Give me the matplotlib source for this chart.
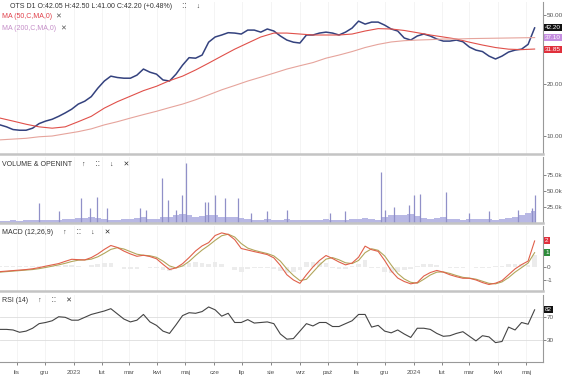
import numpy as np
import pandas as pd
import matplotlib
matplotlib.use('Agg')
import matplotlib.pyplot as plt
import matplotlib.dates as mdates
import matplotlib.transforms as mtransforms

plt.rcParams['font.family'] = ['Liberation Sans', 'DejaVu Sans']

# weekly samples, 2022-10-14 .. 2024-05-10
dates = pd.date_range('2022-10-14', periods=83, freq='7D')

close = [11.6, 11.3, 10.9, 10.8, 10.8, 11.1, 11.8, 12.2, 12.5, 13.0,
         13.6, 14.3, 15.3, 15.9, 16.9, 18.9, 20.8, 22.2, 21.8, 21.6,
         21.6, 22.5, 24.4, 23.4, 22.8, 21.1, 20.8, 22.8, 25.7, 28.4,
         28.2, 29.4, 34.9, 37.4, 38.4, 39.6, 39.4, 38.9, 41.0, 41.0,
         39.9, 41.6, 40.5, 37.9, 35.9, 34.9, 34.5, 38.4, 38.4, 39.4,
         39.9, 39.4, 38.4, 39.9, 42.1, 46.2, 44.4, 45.6, 45.6, 43.8,
         41.6, 40.5, 36.9, 35.9, 37.9, 38.9, 37.9, 36.4, 35.4, 35.4,
         35.9, 35.1, 32.7, 31.4, 30.8, 29.0, 27.9, 29.0, 30.6, 31.4,
         31.8, 33.9, 42.2]

# moving averages read every second week
ma50 = [12.7, 12.2, 11.7, 11.3, 11.1, 11.3, 12.1, 13.0, 14.5, 15.8,
        17.0, 18.3, 19.4, 20.9, 22.2, 24.1, 26.4, 29.0, 31.8, 34.5,
        37.4, 39.4, 39.4, 38.9, 38.4, 38.4, 38.4, 38.9, 40.5, 41.8,
        41.6, 40.8, 39.6, 38.4, 37.4, 36.4, 34.9, 33.6, 32.5, 31.8,
        31.6, 31.85]
ma200 = [9.5, 9.6, 9.7, 9.9, 10.0, 10.3, 10.6, 11.0, 11.6, 12.1,
         12.7, 13.3, 13.9, 14.6, 15.3, 16.2, 17.3, 18.5, 19.6, 20.8,
         21.9, 23.1, 24.4, 25.5, 26.6, 28.2, 29.4, 30.8, 32.5, 33.9,
         35.0, 35.6, 35.9, 36.1, 36.4, 36.4, 36.6, 36.7, 36.8, 36.9,
         37.0, 37.1]

vol_base = [3, 3, 4, 3, 4, 5, 5, 4, 5, 4, 6, 7, 8, 8, 9, 8, 6, 5, 5, 6,
            7, 8, 9, 6, 6, 9, 10, 12, 14, 12, 10, 11, 13, 12, 10, 9, 10, 8,
            6, 5, 5, 6, 5, 5, 6, 5, 4, 4, 5, 5, 6, 5, 4, 5, 6, 7, 8, 6, 5,
            10, 12, 13, 12, 14, 11, 8, 7, 8, 9, 7, 6, 5, 6, 6, 7, 6, 5, 6,
            8, 10, 12, 15, 18]
spike_dates = ['2022-11-25', '2022-12-16', '2023-01-09', '2023-01-19', '2023-01-26',
               '2023-02-06', '2023-03-13', '2023-03-20', '2023-04-06', '2023-04-12',
               '2023-04-21', '2023-04-27', '2023-05-02', '2023-05-22', '2023-05-25',
               '2023-06-02', '2023-06-13', '2023-06-26', '2023-07-10', '2023-07-28',
               '2023-08-18', '2023-10-03', '2023-10-19', '2023-11-27', '2023-12-01',
               '2023-12-11', '2023-12-27', '2024-01-02', '2024-01-08', '2024-02-05',
               '2024-03-01', '2024-03-22', '2024-04-22', '2024-05-07', '2024-05-10']
spike_vals = [31, 18, 39, 23, 41, 23, 23, 20, 70, 36, 20, 44, 94, 33, 33, 44, 39, 39,
              15, 18, 20, 15, 18, 80, 20, 25, 28, 44, 46, 49, 16, 18, 20, 23, 44]

macd = [-0.36, -0.32, -0.28, -0.24, -0.2, -0.14, -0.05, 0.06, 0.16, 0.26,
        0.43, 0.59, 0.56, 0.54, 0.72, 1.0, 1.35, 1.65, 1.5, 1.22,
        1.0, 0.82, 0.9, 0.8, 0.63, 0.2, -0.2, -0.07, 0.25, 0.72,
        1.23, 1.62, 1.87, 2.42, 2.62, 2.5, 2.1, 1.42, 1.3, 1.18,
        1.07, 0.95, 0.7, 0.12, -0.6, -1.0, -1.26, -0.6, 0.0, 0.5,
        0.88, 0.65, 0.38, 0.16, 0.3, 0.75, 1.6, 1.33, 1.2, 0.5,
        -0.3, -0.85, -1.12, -1.3, -1.2, -0.7, -0.43, -0.27, -0.4, -0.6,
        -0.75, -0.87, -0.87, -1.0, -1.2, -1.35, -1.25, -1.05, -0.6, -0.15,
        0.18, 0.45, 2.0]
signal = [-0.4, -0.36, -0.32, -0.28, -0.24, -0.2, -0.13, -0.04, 0.06, 0.16,
          0.28, 0.42, 0.52, 0.54, 0.6, 0.78, 1.05, 1.35, 1.48, 1.38,
          1.18, 0.98, 0.9, 0.86, 0.74, 0.45, 0.08, -0.08, 0.08, 0.42,
          0.88, 1.3, 1.65, 2.05, 2.4, 2.52, 2.3, 1.8, 1.45, 1.28,
          1.15, 1.03, 0.85, 0.45, -0.15, -0.65, -1.05, -0.95, -0.4, 0.15,
          0.6, 0.72, 0.55, 0.32, 0.26, 0.5, 1.1, 1.4, 1.28, 0.85,
          0.15, -0.5, -0.92, -1.18, -1.25, -0.95, -0.62, -0.4, -0.38, -0.5,
          -0.66, -0.8, -0.86, -0.94, -1.1, -1.26, -1.3, -1.15, -0.82, -0.4,
          -0.05, 0.3, 1.1]
hist = [0.04, 0.04, 0.04, 0.04, 0.04, 0.06, 0.08, 0.1, 0.1, 0.1,
        0.15, 0.17, 0.04, 0.0, 0.12, 0.22, 0.3, 0.3, 0.02, -0.16,
        -0.18, -0.16, 0.0, -0.06, -0.11, -0.25, -0.28, 0.01, 0.17, 0.3,
        0.35, 0.32, 0.22, 0.37, 0.22, -0.02, -0.2, -0.38, -0.15, -0.1,
        -0.08, -0.08, -0.15, -0.33, -0.45, -0.35, -0.21, 0.35, 0.4, 0.35,
        0.28, -0.07, -0.17, -0.16, 0.04, 0.25, 0.5, -0.07, -0.08, -0.35,
        -0.45, -0.35, -0.2, -0.12, 0.05, 0.25, 0.19, 0.13, -0.02, -0.1,
        -0.09, -0.07, -0.01, -0.06, -0.1, -0.09, 0.05, 0.1, 0.22, 0.25,
        0.23, 0.15, 0.9]

rsi = [48, 48, 47, 43, 45, 50, 58, 60, 63, 70,
       69, 64, 64, 69, 74, 77, 80, 84, 75, 66,
       61, 64, 74, 61, 55, 45, 41, 56, 72, 77,
       76, 79, 87, 82, 71, 76, 60, 60, 65, 59,
       60, 61, 58, 40, 31, 32, 45, 58, 54, 60,
       60, 53, 53, 58, 63, 74, 74, 52, 55, 45,
       42, 47, 40, 34, 50, 50, 48, 41, 36, 37,
       41, 44, 36, 28, 37, 35, 25, 27, 52, 47,
       60, 57, 82]

month_names = ['2023', 'lut', 'mar', 'kwi', 'maj', 'cze', 'lip', 'sie',
               'wrz', 'paź', 'lis', 'gru']

W, H = 564, 378
fig = plt.figure(figsize=(W / 100, H / 100), dpi=100)
fig.patch.set_facecolor('white')

def box(top, bottom):
    return [0, 1 - bottom / H, 543 / W, (bottom - top) / H]

ax_p = fig.add_axes(box(2, 154))
ax_v = fig.add_axes(box(157, 223))
ax_m = fig.add_axes(box(226, 291))
ax_r = fig.add_axes(box(295, 362))
axes = [ax_p, ax_v, ax_m, ax_r]

grey = '#555555'
fs = 4.6
xmin, xmax = pd.Timestamp('2022-10-14'), pd.Timestamp('2024-05-19')

for ax in axes:
    ax.set_xlim(xmin, xmax)
    ax.set_facecolor('white')
    for s in ['left', 'top']:
        ax.spines[s].set_visible(False)
    ax.spines['right'].set_color('#999999')
    ax.spines['right'].set_linewidth(0.8)
    ax.spines['bottom'].set_color('#c4c4c4')
    ax.spines['bottom'].set_linewidth(1.8)
    ax.yaxis.tick_right()
    ax.tick_params(axis='y', labelsize=fs, colors=grey, length=2, width=0.5, pad=0.8)
    ax.xaxis.set_major_locator(mdates.MonthLocator())
    ax.grid(axis='x', color='#f2f2f2', linewidth=0.6)
    ax.set_axisbelow(True)
    if ax is not ax_r:
        ax.tick_params(axis='x', bottom=False, labelbottom=False)

# price panel
ax_p.set_yscale('log')
ax_p.set_ylim(7.87, 59.6)
ax_p.plot(dates, close, color='#34427e', lw=1.1)
ax_p.plot(dates[::2], ma50, color='#e0504a', lw=0.8)
ax_p.plot(dates[::2], ma200, color='#e6a49c', lw=0.8)
ax_p.set_yticks([10, 20, 50])
ax_p.set_yticklabels(['10.00', '20.00', '50.00'])
ax_p.yaxis.set_minor_locator(matplotlib.ticker.NullLocator())

# volume panel
ax_v.set_ylim(0, 103000)
ax_v.fill_between(dates, np.array(vol_base) * 1000, step='mid', color='#b8b8e4', lw=0)
ax_v.vlines(pd.to_datetime(spike_dates), 0, np.array(spike_vals) * 1000, color='#9090c8', lw=0.9)
ax_v.set_yticks([25000, 50000, 75000])
ax_v.set_yticklabels(['25.0k', '50.0k', '75.0k'])

# macd panel
ax_m.set_ylim(-1.85, 3.15)
ax_m.bar(dates, hist, width=5, color='#ececec', lw=0)
ax_m.plot(dates, signal, color='#b2a65c', lw=0.8)
ax_m.plot(dates, macd, color='#e0604a', lw=0.8)
ax_m.set_yticks([-1, 0])
ax_m.set_yticklabels(['-1', '0'])

# rsi panel
ax_r.set_ylim(-8.7, 107.8)
ax_r.axhline(70, color='#dddddd', lw=0.6)
ax_r.axhline(30, color='#dddddd', lw=0.6)
ax_r.plot(dates, rsi, color='#444444', lw=0.8)
ax_r.set_yticks([30, 70])
ax_r.spines['bottom'].set_linewidth(0.8)
ax_r.spines['bottom'].set_color('#999999')

def month_fmt(x, pos=None):
    d = mdates.num2date(x)
    if d.month == 1:
        return str(d.year)
    return month_names[d.month - 1]

ax_r.xaxis.set_major_formatter(matplotlib.ticker.FuncFormatter(month_fmt))
ax_r.tick_params(axis='x', labelsize=fs, colors=grey, length=2.5, width=0.5, pad=3)

# value boxes on the right axis
def tag(ax, y, txt, fc):
    tr = mtransforms.blended_transform_factory(ax.transAxes, ax.transData)
    ax.text(1.004, y, txt, transform=tr, fontsize=fs, color='white', va='center', ha='left',
            bbox=dict(boxstyle='square,pad=0.15', fc=fc, ec='none'), clip_on=False)

tag(ax_p, close[-1], '42.20', '#111111')
tag(ax_p, ma200[-1], '37.10', '#c58ee0')
tag(ax_p, ma50[-1], '31.85', '#e0303c')
tag(ax_m, macd[-1], '2', '#e0303c')
tag(ax_m, signal[-1], '1', '#2e8b3a')
tag(ax_r, rsi[-1], '82', '#111111')

# panel headers
def ftext(x, y, s, color='#333333', size=5):
    fig.text(x / W, 1 - y / H, s, fontsize=size, color=color, va='center', ha='left')

ftext(10, 6, 'OTS D1 O:42.05 H:42.50 L:41.00 C:42.20 (+0.48%)     ⁚⁚     ↓')
ftext(2, 17, 'MA (50,C,MA,0)', color='#e0404a')
ftext(55, 17, '✕', color=grey)
ftext(2, 29, 'MA (200,C,MA,0)', color='#c58ec8')
ftext(60, 29, '✕', color=grey)
ftext(2, 164, 'VOLUME & OPENINT     ↑     ⁚⁚     ↓     ✕')
ftext(2, 232, 'MACD (12,26,9)     ↑     ⁚⁚     ↓     ✕')
ftext(2, 300, 'RSI (14)     ↑     ⁚⁚     ✕')

plt.savefig('out.png', dpi=100, facecolor='white')
